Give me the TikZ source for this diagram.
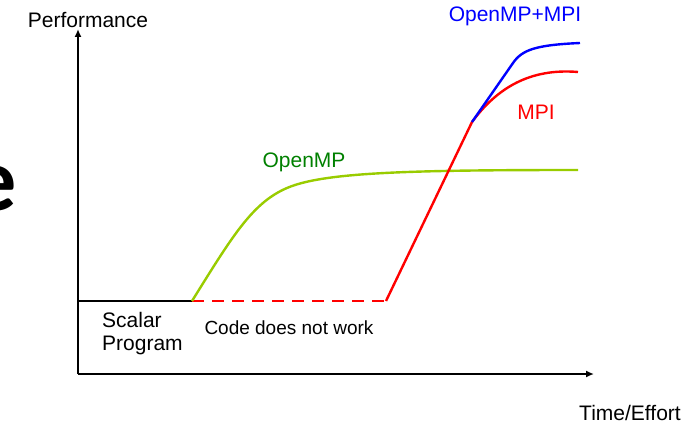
\documentclass[tikz,border=0pt]{standalone}
\usepackage{fontspec}
\setmainfont{Liberation Sans}
\newfontfamily\bigfont{Carlito}
\usetikzlibrary{arrows.meta}
\definecolor{limeg}{HTML}{99CC00}
\definecolor{darkg}{HTML}{008000}
\tikzset{
  axis/.style={line width=2pt, -{Latex[length=8pt,width=7pt]}},
  curve/.style={line width=2.4pt},
  lbl/.style={inner sep=0pt, font=\fontsize{21}{25}\selectfont},
}
\begin{document}
\begin{tikzpicture}[x=1pt,y=-1pt]
\useasboundingbox (0,0) rectangle (684,425);
\begin{scope}
\clip (0,0) rectangle (684,425);
\node[inner sep=0pt, anchor=base east, font=\bigfont\bfseries\fontsize{90}{100}\selectfont] (bige) at (17,210) {e};
\end{scope}
\coordinate (origin) at (78,374);
\coordinate (ytop) at (78,29);
\coordinate (xend) at (594,374);
\draw[axis] (origin) -- (ytop);
\draw[axis] (origin) -- (xend);
% scalar baseline
\coordinate (s0) at (78,301);
\coordinate (s1) at (192,301);
\coordinate (d1) at (386,301);
\coordinate (m0) at (472,122);
\draw[line width=2.2pt] (s0) -- (s1);
\draw[red, line width=2.2pt, dash pattern=on 12pt off 8pt] (s1) -- (d1);
% OpenMP
\coordinate (g1) at (295,185);
\coordinate (g2) at (578,170);
\draw[curve, limeg] (s1) .. controls (235,232) and (255,198) .. (g1) .. controls (335,172) and (420,170) .. (g2);
% MPI
\coordinate (r1) at (578,72);
\draw[curve, red] (d1) -- (m0) .. controls (497,88) and (530,68) .. (r1);
% OpenMP+MPI
\coordinate (b1) at (513,63);
\coordinate (b2) at (580,43);
\draw[curve, blue] (m0) -- (b1) .. controls (522,50) and (535,45) .. (b2);
% labels
\node[lbl] (perf) at (88,20) {Performance};
\node[lbl] (time) at (630,413) {Time/Effort};
\node[lbl, blue] (ompmpi) at (515,16) {OpenMP+MPI};
\node[lbl, red] (mpi) at (536,112) {MPI};
\node[lbl, darkg] (omp) at (304,162) {OpenMP};
\node[lbl, align=left, anchor=west, font=\fontsize{21}{23}\selectfont] (scalar) at (102,334) {Scalar\\Program};
\node[lbl, font=\fontsize{19}{23}\selectfont] (code) at (289,328) {Code does not work};
\end{tikzpicture}
\end{document}
